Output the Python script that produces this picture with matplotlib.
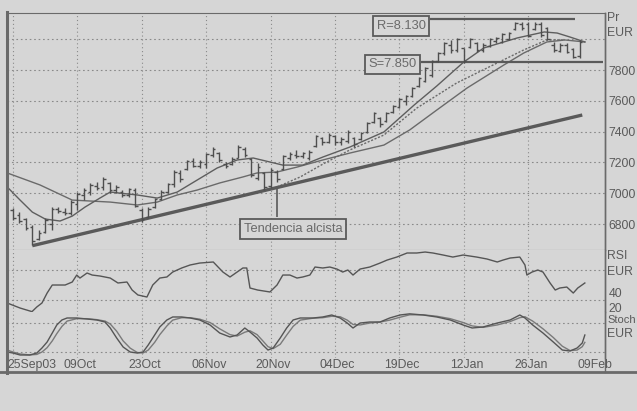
import matplotlib
matplotlib.use("Agg")
import matplotlib.pyplot as plt
from matplotlib.lines import Line2D
from matplotlib.transforms import blended_transform_factory

plt.rcParams['font.family'] = ['Liberation Sans', 'DejaVu Sans']

# ---------------- data (bar index 0 = 25Sep03) ----------------
highs = [6904, 6878, 6839, 6794, 6762, 6839, 6911, 6911, 6904, 6956,
         7008, 7034, 7067, 7073, 7106, 7073, 7054, 7021, 7034, 7034,
         6904, 6911, 6969, 7021, 7067, 7151, 7151, 7216, 7229, 7216,
         7261, 7300, 7268, 7203, 7235, 7313, 7300, 7229, 7196, 7138,
         7164, 7151, 7248, 7268, 7281, 7268, 7281, 7378, 7365, 7391,
         7378, 7365, 7411, 7365, 7398, 7463, 7527, 7495, 7527, 7573,
         7618, 7638, 7690, 7755, 7820, 7865, 7917, 7982, 7995, 8008,
         7943, 8008, 7982, 7975, 8008, 8014, 8040, 8047, 8112, 8112,
         8112, 8112, 8112, 8079, 7982, 7975, 7975, 7943, 7995]
lows = [6826, 6807, 6762, 6664, 6697, 6742, 6762, 6872, 6859, 6859,
        6891, 6956, 6989, 7021, 7021, 7002, 7002, 6976, 6976, 6911,
        6813, 6839, 6904, 6956, 7002, 7041, 7073, 7151, 7170, 7164,
        7164, 7235, 7203, 7164, 7183, 7229, 7235, 7106, 7086, 7021,
        7034, 7073, 7151, 7216, 7229, 7229, 7216, 7300, 7313, 7326,
        7313, 7313, 7326, 7300, 7346, 7391, 7456, 7430, 7462, 7521,
        7553, 7573, 7625, 7690, 7722, 7755, 7852, 7897, 7910, 7917,
        7845, 7943, 7917, 7917, 7949, 7975, 7975, 7995, 8060, 8060,
        8014, 8060, 8014, 7995, 7917, 7917, 7910, 7878, 7878]
opens = [6890, 6860, 6830, 6780, 6705, 6750, 6800, 6895, 6880, 6870,
         6930, 6990, 7010, 7050, 7040, 7070, 7020, 7010, 6990, 7020,
         6890, 6845, 6910, 6960, 7010, 7060, 7130, 7160, 7210, 7180,
         7190, 7250, 7260, 7190, 7190, 7230, 7290, 7220, 7100, 7130,
         7050, 7140, 7160, 7230, 7250, 7240, 7230, 7310, 7360, 7330,
         7370, 7330, 7340, 7360, 7350, 7400, 7460, 7490, 7470, 7525,
         7560, 7600, 7630, 7695, 7730, 7770, 7860, 7910, 7960, 7930,
         7940, 7950, 7975, 7930, 7955, 7990, 7985, 8000, 8065, 8100,
         8100, 8065, 8100, 8070, 7960, 7925, 7960, 7935, 7890]
closes = [6840, 6820, 6775, 6690, 6745, 6825, 6900, 6885, 6870, 6945,
          6995, 7020, 7055, 7035, 7095, 7020, 7040, 6990, 7025, 6920,
          6830, 6900, 6960, 7010, 7060, 7140, 7090, 7210, 7180, 7200,
          7255, 7290, 7215, 7180, 7225, 7300, 7250, 7120, 7170, 7040,
          7150, 7090, 7240, 7255, 7240, 7260, 7270, 7370, 7330, 7380,
          7330, 7350, 7400, 7320, 7390, 7455, 7520, 7450, 7520, 7565,
          7610, 7630, 7685, 7750, 7810, 7860, 7910, 7975, 7930, 8000,
          7860, 8000, 7930, 7965, 8000, 8005, 8035, 8040, 8105, 8070,
          8020, 8100, 8025, 8000, 7930, 7965, 7920, 7885, 7985]

ma_fast_t = [-0.9, 1.1, 3.0, 5.0, 7.3, 9.2, 11.2, 13.5, 15.1, 19.3, 22.4, 25.5,
             28.6, 31.7, 34.8, 37.3, 39.9, 41.9, 45.0, 48.1, 52.3, 57.6, 62.3,
             65.8, 70.0, 73.1, 78.3, 82.5, 84.5, 86.5, 88.8]
ma_fast = [7041, 6956, 6878, 6833, 6820, 6852, 6911, 6969, 7008, 6989, 6969, 7008,
           7086, 7164, 7216, 7229, 7203, 7183, 7183, 7235, 7300, 7398, 7573,
           7696, 7852, 7943, 8008, 8047, 8040, 8014, 7982]
ma_slow_t = [-0.9, 4.2, 9.2, 15.1, 19.3, 22.4, 25.5, 28.6, 32.1, 35.7, 37.9, 41.0,
             44.1, 48.1, 52.3, 57.6, 61.6, 65.8, 70.5, 76.2, 79.3, 82.9, 85.7, 88.8]
ma_slow = [7132, 7054, 6956, 6943, 6924, 6943, 6989, 7021, 7067, 7106, 7132, 7138,
           7170, 7216, 7261, 7313, 7411, 7540, 7683, 7832, 7910, 7982, 7995, 7982]
ma_dot_t = [41.0, 44.6, 48.4, 52.3, 57.6, 62.7, 68.9, 75.2, 79.3, 82.9, 85.7]
ma_dot = [7041, 7106, 7196, 7281, 7378, 7553, 7716, 7846, 7930, 7995, 7995]

trend_t = [3, 88.4]
trend_p = [6660, 7508]
resistance = 8130
support = 7850

rsi_t = [-0.9, 1.1, 2.95, 3.7, 4.5, 5.3, 6.1, 6.8, 8.1, 9.2, 9.9, 10.4, 11.5, 12.3,
         13.5, 15.1, 16.3, 17.7, 18.5, 19.4, 20.8, 21.7, 22.8, 23.9, 24.8, 26.2,
         27.5, 29.0, 31.1, 32.6, 33.7, 34.8, 35.7, 36.3, 36.8, 38.0, 39.9, 41.0,
         41.9, 43.0, 44.1, 45.0, 46.1, 46.9, 48.1, 49.2, 50.3, 51.2, 52.0, 52.8,
         53.9, 55.4, 57.0, 58.1, 59.6, 61.2, 62.7, 64.0, 65.2, 66.8, 68.3, 69.9,
         72.0, 73.6, 75.2, 76.1, 77.2, 78.7, 79.5, 79.8, 80.6, 81.5, 82.3, 83.4,
         84.2, 84.9, 86.0, 87.0, 87.7, 88.8]
rsi = [26.0, 19.3, 14.5, 20.7, 26.0, 39.3, 50.0, 50.0, 50.0, 54.0, 63.3, 59.3, 66.0, 63.3,
       62.0, 59.3, 52.7, 54.0, 43.3, 36.7, 34.0, 50.0, 59.3, 60.7, 67.3, 72.7,
       76.7, 79.3, 80.7, 67.3, 60.7, 67.3, 72.7, 72.7, 46.0, 43.3, 40.7, 50.0,
       63.3, 63.3, 59.3, 60.7, 63.3, 74.0, 72.7, 74.0, 71.3, 67.3, 70.0, 63.3,
       71.3, 74.0, 79.3, 83.3, 87.3, 92.7, 92.7, 94.0, 92.7, 90.0, 87.3, 90.0,
       87.3, 84.7, 80.7, 83.3, 86.0, 87.3, 76.7, 63.3, 67.3, 70.0, 67.3, 52.7,
       43.3, 46.0, 47.3, 39.3, 46.0, 52.7]

stoch_t = [-0.9, 0, 1.1, 2.6, 3.7, 4.5, 5.3, 6.1, 6.8, 7.6, 8.4, 9.9, 11.5, 13.0, 14.3,
           15.1, 16.1, 17.1, 18.2, 19.3, 20.2, 21.0, 22.0, 22.8, 23.9, 24.8, 26.2,
           27.5, 29.0, 30.6, 32.1, 33.7, 34.8, 36.0, 36.8, 37.9, 38.8, 39.6, 40.4,
           41.5, 42.5, 43.5, 44.6, 46.6, 48.1, 49.5, 50.8, 51.9, 52.8, 53.9, 55.4,
           57.0, 58.5, 60.1, 61.6, 63.7, 65.8, 67.9, 69.9, 71.3, 73.0, 75.2, 77.2,
           78.7, 79.5, 80.7, 82.3, 83.9, 85.3, 86.5, 87.6, 88.4, 88.8]
stoch_k = [20, 17.9, 13.8, 13.8, 17.9, 28.3, 40.7, 59.3, 75.9, 86.3, 90.4, 90.4, 88.3, 86.3,
           82.1, 69.7, 49, 30.4, 20, 17.9, 20, 34.5, 55.2, 71.8, 86.3, 92.5, 92.5,
           90.4, 86.3, 75.9, 59.3, 51.1, 55.2, 69.7, 61.4, 49, 34.5, 24.1, 28.3,
           49, 69.7, 86.3, 90.4, 90.4, 92.5, 96.6, 90.4, 80, 69.7, 80, 82.1,
           82.1, 90.4, 96.6, 99, 96.6, 92.5, 86.3, 75.9, 69.7, 71.8, 80, 86.3,
           96.6, 90.4, 75.9, 59.3, 40.7, 24.1, 22.1, 28.3, 38.6, 55.2]
stoch_d = [24, 20, 16, 14, 15, 20, 29, 43, 58, 73, 84, 89, 89, 87, 84,
           78, 63, 43, 28, 19, 18, 24, 40, 56, 74, 86, 91,
           91, 88, 81, 68, 56, 53, 61, 64, 56, 43, 31, 27,
           36, 55, 73, 86, 90, 91, 94, 93, 86, 77, 76, 80,
           82, 86, 92, 97, 97, 94, 89, 81, 74, 71, 76, 83,
           91, 93, 84, 68, 50, 32, 23, 24, 31, 40]

date_ticks = [0, 10, 20, 30, 40, 50, 60, 70, 80, 90]
date_labels = ['25Sep03', '09Oct', '23Oct', '06Nov', '20Nov', '04Dec',
               '19Dec', '12Jan', '26Jan', '09Feb']
price_ticks = [6800, 7000, 7200, 7400, 7600, 7800]
price_grid = [6800, 7000, 7200, 7400, 7600, 7800, 8000]

# ---------------- style ----------------
BG = '#d6d6d6'
INK = '#4e4e4e'
TXT = '#5a5a5a'
GRID = '#8a8a8a'
FS = 8.8
W, H = 637, 411

fig = plt.figure(figsize=(W / 100, H / 100), dpi=100)
fig.patch.set_facecolor(BG)


def fx(px):
    return px / W


def fy(py):
    return 1 - py / H


XL = (-0.93, 91.93)
ax_p = fig.add_axes([fx(7), fy(250), fx(605) - fx(7), fy(13) - fy(250)])
ax_r = fig.add_axes([fx(7), fy(312), fx(605) - fx(7), fy(250) - fy(312)])
ax_s = fig.add_axes([fx(7), fy(358), fx(605) - fx(7), fy(312) - fy(358)])

for ax in (ax_p, ax_r, ax_s):
    ax.set_facecolor(BG)
    ax.set_xlim(*XL)
    for s in ax.spines.values():
        s.set_visible(False)
    ax.spines['right'].set_visible(True)
    ax.spines['right'].set_color('#6a6a6a')
    ax.spines['right'].set_linewidth(1.0)
    ax.tick_params(axis='both', length=0, colors=TXT, labelsize=FS)
    ax.yaxis.tick_right()
    ax.set_xticks([])
    for t in date_ticks:
        if t <= 80:
            ax.axvline(t, color=GRID, lw=0.8, ls=(0, (1, 2.5)), zorder=0)

gl = dict(color=GRID, lw=0.8, ls=(0, (1.5, 2.5)), zorder=0)

# ---------------- price panel ----------------
ax_p.set_ylim(6632, 8170)
for g in price_grid:
    ax_p.axhline(g, **gl)
ax_p.spines['top'].set_visible(True)
ax_p.spines['top'].set_color('#6a6a6a')
ax_p.spines['bottom'].set_visible(True)
ax_p.spines['bottom'].set_color('#6a6a6a')
ax_p.set_yticks(price_ticks)
ax_p.set_yticklabels([str(v) for v in price_ticks])
ax_p.tick_params(axis='y', pad=2.5)

idx = list(range(len(highs)))
ax_p.vlines(idx, lows, highs, color=INK, lw=1.0, zorder=3)
ax_p.hlines(opens, [i - 0.4 for i in idx], idx, color=INK, lw=1.0, zorder=3)
ax_p.hlines(closes, idx, [i + 0.4 for i in idx], color=INK, lw=1.0, zorder=3)

ax_p.plot(ma_slow_t, ma_slow, color='#6a6a6a', lw=1.0, zorder=2)
ax_p.plot(ma_fast_t, ma_fast, color='#5e5e5e', lw=1.0, zorder=2)
ax_p.plot(ma_dot_t, ma_dot, color='#6a6a6a', lw=1.0, ls=(0, (1.5, 1.2)), zorder=2)
ax_p.plot(trend_t, trend_p, color='#5a5a5a', lw=2.4, solid_capstyle='butt', zorder=2)

ax_p.hlines(resistance, 64.75, 87.3, color='#5a5a5a', lw=1.6, zorder=2)
ax_p.hlines(support, 63.35, 91.6, color='#5a5a5a', lw=1.6, zorder=2)
box = dict(boxstyle='square,pad=0.28', facecolor=BG, edgecolor='#5a5a5a', lw=1.3)
ax_p.text(60.3, 8085, 'R=8.130', ha='center', va='center', fontsize=9.3, color='#6a6a6a', bbox=box)
ax_p.text(58.9, 7838, 'S=7.850', ha='center', va='center', fontsize=9.3, color='#6a6a6a', bbox=box)
ax_p.vlines(41.0, 6846, 7037, color='#5a5a5a', lw=1.2, zorder=2)
ax_p.text(43.5, 6768, 'Tendencia alcista', ha='center', va='center', fontsize=9.3,
          color='#6a6a6a', bbox=box, zorder=4)

# ---------------- RSI panel ----------------
ax_r.set_ylim(14, 96.7)
for g in (30, 70):
    ax_r.axhline(g, **gl)
ax_r.set_yticks([40, 20])
ax_r.set_yticklabels(['40', '20'])
ax_r.tick_params(axis='y', pad=2.5)
ax_r.plot(rsi_t, rsi, color='#555555', lw=1.0, clip_on=False)

# ---------------- Stoch panel ----------------
ax_s.set_ylim(7.6, 102.8)
for g in (20, 80):
    ax_s.axhline(g, **gl)
ax_s.set_yticks([])
ax_s.plot(stoch_t, stoch_d, color='#7a7a7a', lw=1.0, clip_on=False)
ax_s.plot(stoch_t, stoch_k, color='#555555', lw=1.0, clip_on=False)

trans = blended_transform_factory(ax_s.transData, fig.transFigure)
for t, lab in zip(date_ticks, date_labels):
    if t == 0:
        fig.text(fx(7), fy(365), lab, ha='left', va='center', fontsize=FS, color=TXT)
    else:
        ax_s.text(t + 0.4, fy(365), lab, ha='center', va='center', fontsize=FS, color=TXT,
                  transform=trans, clip_on=False)

# right-hand panel labels
for txt, py, fs in [('Pr', 18, FS), ('EUR', 33, FS), ('RSI', 256, FS), ('EUR', 272, FS),
                    ('Stoch', 320, 8.0), ('EUR', 334, FS)]:
    fig.text(fx(607.5), fy(py), txt, ha='left', va='center', fontsize=fs, color=TXT)

# outer frame lines
fig.add_artist(Line2D([fx(7), fx(7)], [fy(12), fy(373)], color='#6a6a6a', lw=2.2))
fig.add_artist(Line2D([0, 1], [fy(372), fy(372)], color='#6a6a6a', lw=2.0))
fig.add_artist(Line2D([fx(605), fx(605)], [fy(13), fy(372)], color='#6a6a6a', lw=1.0))

fig.savefig('out.png', dpi=100, facecolor=BG)
